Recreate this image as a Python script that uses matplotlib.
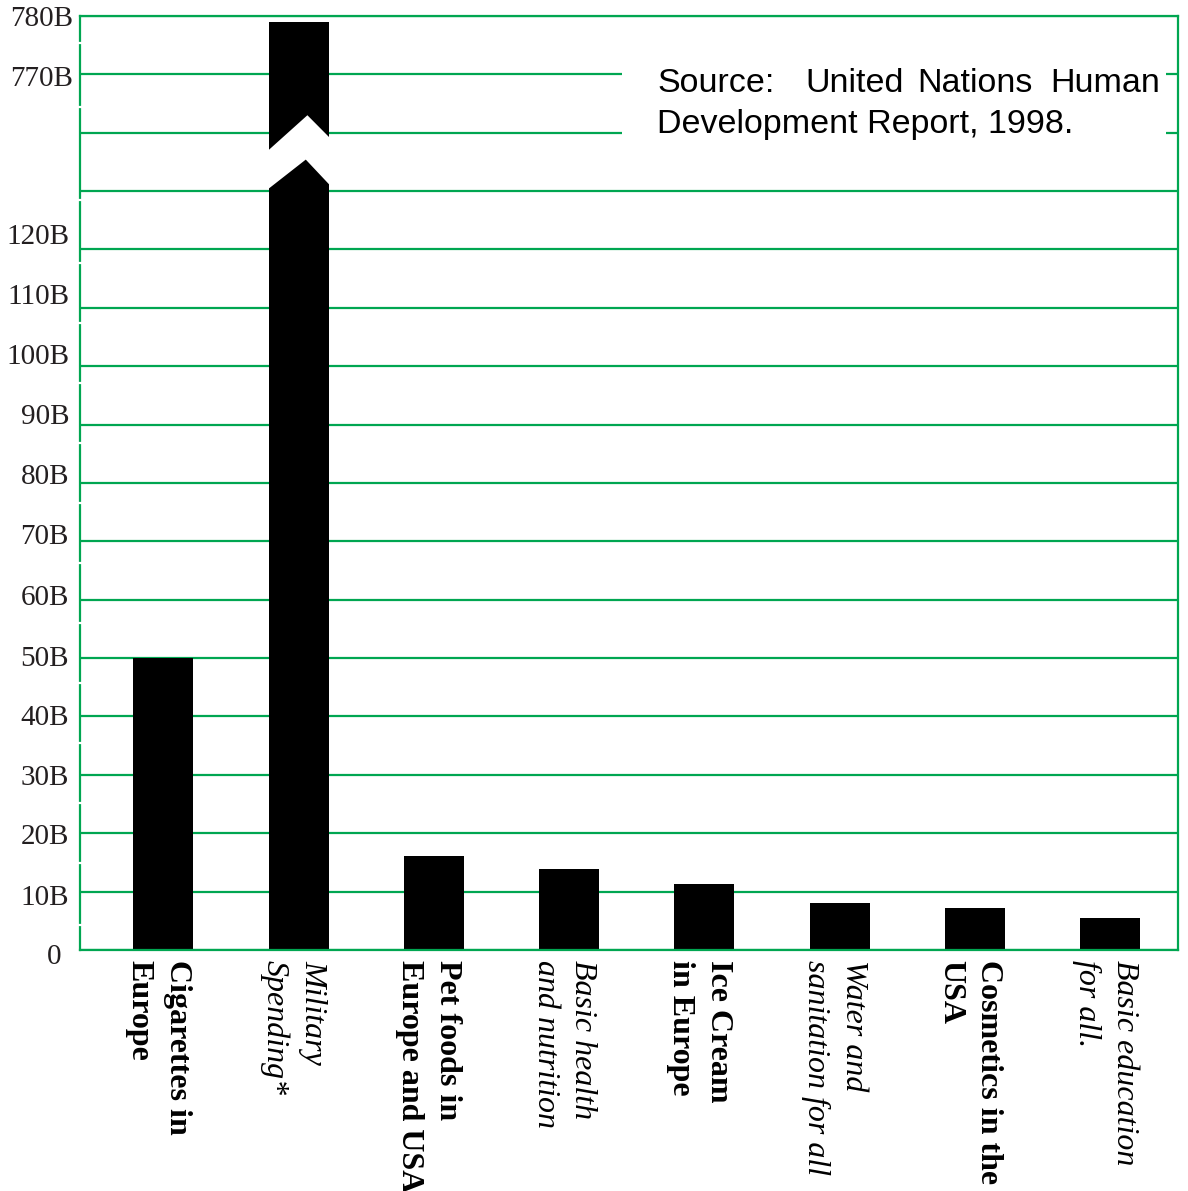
import numpy as np
import matplotlib
matplotlib.use("Agg")
import matplotlib.pyplot as plt
from matplotlib.patches import Polygon, Rectangle
from matplotlib.lines import Line2D
from matplotlib.transforms import ScaledTranslation, blended_transform_factory

# ---- data ----
categories = ["Cigarettes in\nEurope", "Military\nSpending*", "Pet foods in\nEurope and USA",
              "Basic health\nand nutrition", "Ice Cream\nin Europe", "Water and\nsanitation for all",
              "Cosmetics in the\nUSA", "Basic education\nfor all."]
values = [50, 779, 16.1, 13.9, 11.3, 8.1, 7.2, 5.5]          # billions USD
bold_label = [True, False, True, False, True, False, True, False]
grid_values = [0, 10, 20, 30, 40, 50, 60, 70, 80, 90, 100, 110, 120, 440, 760, 770, 780]
label_values = [0, 10, 20, 30, 40, 50, 60, 70, 80, 90, 100, 110, 120, 770, 780]
label_texts = ["0", "10B", "20B", "30B", "40B", "50B", "60B", "70B", "80B", "90B",
               "100B", "110B", "120B", "770B", "780B"]
source_line1 = ["Source:", "United", "Nations", "Human"]
source_line2 = "Development Report, 1998."

# ---- style / layout (pixels) ----
label_dy = [4.3, 3.3, 1, 0, -0.7, -2, -4, -7.2, -8.7, -10, -12, -13.6, -15.3, 1.7, 0]
label_right = [61, 69, 69, 69, 69, 69, 69, 69, 69, 69, 69, 69, 69, 73, 73]
spine_gaps = [43, 107, 200, 263, 323, 383, 443, 503, 563, 623, 683, 743, 803, 863, 925]

GREEN = "#00a651"
W, H = 1188, 1191
AX_L, AX_R, AX_T, AX_B = 80, 1178, 16, 950

# broken axis scale: 0-120 linear, 120-760 compressed, 760+ linear
_xp = [-1000, 0, 120, 760, 2000]
_fp = [-1000, 0, 120, 140, 1380]
def fwd(v):
    return np.interp(v, _xp, _fp)
def inv(t):
    return np.interp(t, _fp, _xp)

fig = plt.figure(figsize=(W / 100, H / 100), dpi=100)
ax = fig.add_axes([AX_L / W, 1 - AX_B / H, (AX_R - AX_L) / W, (AX_B - AX_T) / H])
ax.set_yscale("function", functions=(fwd, inv))

def px(dx, dy):
    return ScaledTranslation(dx / 100, -dy / 100, fig.dpi_scale_trans)

x = np.arange(len(categories))
bw = 0.444
ax.bar(x, values, width=bw, color="black", zorder=1)
ax.set_xlim(-0.616, 7.502)
ax.set_ylim(0, 780)

# axis-break zigzag on the military bar
xl = 1 - bw / 2
xr = 1 + bw / 2
e = 0.006
upper = [(xl - e, inv(136.9)), (xl + 0.647 * bw, inv(143.0)), (xr + e, inv(139.2))]
lower = [(xr + e, inv(131.1)), (xl + 0.62 * bw, inv(135.4)), (xl - e, inv(130.3))]
ax.add_patch(Polygon(upper + lower, closed=True, facecolor="white", edgecolor="none", zorder=3))

# grid
ax.set_yticks(grid_values)
ax.set_yticklabels([""] * len(grid_values))
ax.yaxis.grid(True, color=GREEN, linewidth=1.6)
ax.set_axisbelow(True)
ax.tick_params(axis="y", length=0)
ax.yaxis.set_minor_locator(matplotlib.ticker.NullLocator())
ax.set_xticks([])

# y labels
fs_y = 21
cap = fs_y * 100 / 72 * 0.662
ytr = blended_transform_factory(ax.transAxes, ax.transData)
for v, t, dy, xr_px in zip(label_values, label_texts, label_dy, label_right):
    ax.text((xr_px - AX_L) / (AX_R - AX_L), v, t, transform=ytr + px(0, dy + cap / 2),
            ha="right", va="baseline", fontsize=fs_y, fontfamily="Liberation Serif",
            color="#231f20", clip_on=False)

# category labels
xtr = blended_transform_factory(ax.transData, ax.transAxes)
for i, (cat, b) in enumerate(zip(categories, bold_label)):
    ax.text(i, 0, cat, transform=xtr + px(-5, 10), rotation=-90,
            ha="center", va="top", multialignment="left", linespacing=1.4,
            fontsize=23, fontfamily="Liberation Serif",
            fontweight="bold" if b else "normal",
            fontstyle="normal" if b else "italic", color="black", clip_on=False)

for s in ax.spines.values():
    s.set_color(GREEN)
    s.set_linewidth(1.6)
    s.set_zorder(5)

# small breaks in the left spine
for gy in spine_gaps:
    fig.add_artist(Line2D([(AX_L - 3) / W, (AX_L + 3) / W], [1 - gy / H, 1 - gy / H],
                          transform=fig.transFigure, color="white", linewidth=1.6, zorder=10))

# source note box (white patch interrupting the grid)
bx0 = (622 - AX_L) / (AX_R - AX_L)
bx1 = (1166 - AX_L) / (AX_R - AX_L)
by0 = (AX_B - 150) / (AX_B - AX_T)
by1 = (AX_B - 50) / (AX_B - AX_T)
ax.add_patch(Rectangle((bx0, by0), bx1 - bx0, by1 - by0, transform=ax.transAxes,
                       facecolor="white", edgecolor="none", zorder=4))

fs = 24.5
word_x = [657, 805, 917, 1160]
for wtxt, wx, ha in zip(source_line1, word_x, ["left", "left", "left", "right"]):
    fig.text(wx / W, 1 - 92 / H, wtxt, ha=ha, va="baseline", fontsize=fs,
             fontfamily="Liberation Sans", color="black", zorder=6)
fig.text(657 / W, 1 - 133 / H, source_line2, ha="left", va="baseline", fontsize=fs,
         fontfamily="Liberation Sans", color="black", zorder=6)

fig.savefig("out.png", dpi=100, facecolor="white")
